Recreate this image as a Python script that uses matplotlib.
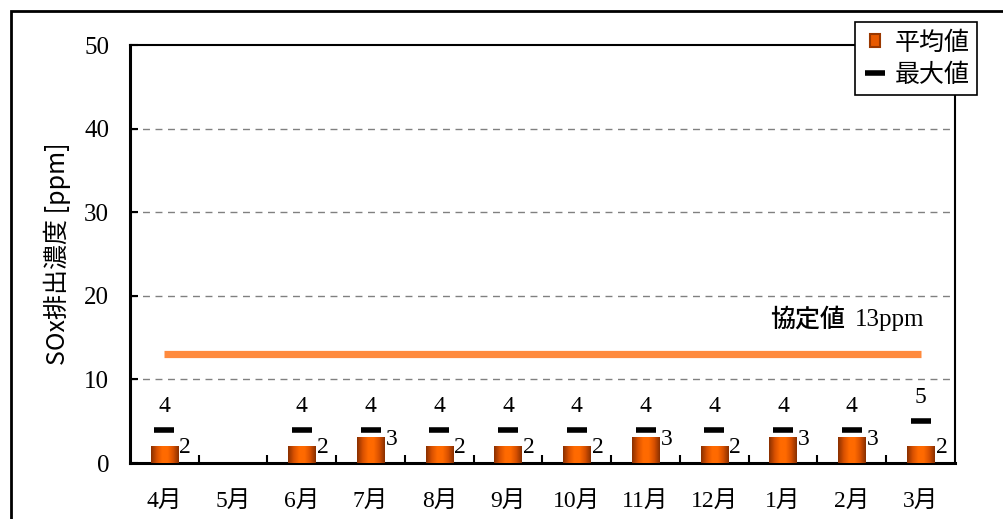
import numpy as np
import matplotlib
matplotlib.use("Agg")
import matplotlib.pyplot as plt
from matplotlib.colors import LinearSegmentedColormap
from matplotlib.patches import Rectangle
from matplotlib.lines import Line2D
from matplotlib.legend_handler import HandlerBase

plt.rcParams['font.family'] = ['Liberation Serif', 'Noto Sans CJK JP']

months  = ["4月", "5月", "6月", "7月", "8月", "9月", "10月", "11月", "12月", "1月", "2月", "3月"]
avg_val = [2, np.nan, 2, 3, 2, 2, 2, 3, 2, 3, 3, 2]
max_val = [4, np.nan, 4, 4, 4, 4, 4, 4, 4, 4, 4, 5]
limit   = 13
limit_label = "13ppm"

BAR_W  = 0.4
GRAD   = LinearSegmentedColormap.from_list(
    "bar", ["#8a3000", "#d85000", "#ff6a00", "#ff6a00", "#d85000", "#8a3000"])

fig = plt.figure(figsize=(10.04, 5.19), dpi=100)
ax = fig.add_axes([130 / 1004, 56 / 519, 825 / 1004, 418 / 519])

x = np.arange(len(months))

# bars, then paint a horizontal gradient over each one
bars = ax.bar(x, avg_val, width=BAR_W, color="#ff6600", zorder=3)
grad = np.linspace(0, 1, 64).reshape(1, -1)
for b in bars:
    h = b.get_height()
    if not np.isfinite(h):
        continue
    ax.imshow(grad, cmap=GRAD, aspect="auto", zorder=4,
              extent=(b.get_x(), b.get_x() + b.get_width(), 0, h))

# max markers
ax.plot(x, max_val, ls="none", marker="_", ms=14.5, mew=4.0, color="black", zorder=5)

# value labels
for xi, a, m in zip(x, avg_val, max_val):
    if np.isfinite(a):
        ax.text(xi + 0.22, a - 0.2, f"{a:g}", ha="left", va="center", fontsize=17, zorder=6)
    if np.isfinite(m):
        ax.text(xi, m + 2.8, f"{m:g}", ha="center", va="center", fontsize=17, zorder=6)

# agreement limit
ax.plot([x[0], x[-1]], [limit, limit], color="#ff8a3d", lw=5.2, zorder=2,
        solid_capstyle="butt")
t1 = ax.text(x[-1] + 0.05, limit + 4.1, limit_label, ha="right", va="center", fontsize=18)
fig.canvas.draw()
bb = t1.get_window_extent()
xl = ax.transData.inverted().transform((bb.x0 - 14, 0))[0]
ax.text(xl, limit + 4.1, "協定値", ha="right", va="center", fontsize=18,
        family=["Noto Sans CJK JP"], fontweight="medium")

ax.set_xlim(-0.5, len(months) - 0.5)
ax.set_ylim(0, 50)
ax.set_yticks(np.arange(0, 51, 10))
ax.set_xticks(x)
ax.set_xticklabels(months)
ax.set_xticks(np.arange(0.5, len(months) - 0.5, 1), minor=True)
ax.tick_params(axis="x", which="major", length=0, pad=20, labelsize=17)
ax.tick_params(axis="x", which="minor", direction="in", length=6, width=1.5)
ax.tick_params(axis="y", direction="in", length=6, width=1.5, pad=15, labelsize=18)

for yv in range(10, 50, 10):
    ax.axhline(yv, color="#808080", lw=1.0, ls=(0, (5, 4)), zorder=1)

for s in ax.spines.values():
    s.set_linewidth(1.5)
ax.spines["left"].set_linewidth(2.2)
ax.spines["bottom"].set_linewidth(2.2)

ax.set_ylabel("SOx排出濃度 [ppm]", fontsize=18,
              family=["Noto Sans CJK JP", "Liberation Serif"])
ax.yaxis.set_label_coords(-0.071, 0.5)


class GradBox(HandlerBase):
    def create_artists(self, legend, orig, xd, yd, w, h, fs, trans):
        s = h * 0.75
        x0 = xd + w / 2 - s * 0.35
        return [Rectangle((x0, yd + (h - s) / 2), s * 0.7, s, facecolor="#e85a00",
                          edgecolor="#9a3800", lw=1.5, transform=trans)]


h_avg = Rectangle((0, 0), 1, 1)
h_max = Line2D([], [], ls="none", marker="_", ms=14.5, mew=4.0, color="black")
leg = fig.legend([h_avg, h_max], ["平均値", "最大値"], handler_map={h_avg: GradBox()},
                 loc="upper left", bbox_to_anchor=(855 / 1004, 1 - 22 / 519),
                 prop={"family": "Noto Sans CJK JP", "size": 18},
                 frameon=True, fancybox=False, edgecolor="black", framealpha=1,
                 handlelength=1.0, handletextpad=0.3, borderpad=0.3,
                 labelspacing=0.25, borderaxespad=0)
leg.get_frame().set_linewidth(1.2)

# outer chart frame
fig.add_artist(Rectangle((11 / 1004, -0.1), 1.2, 1 - 11 / 519 + 0.1, transform=fig.transFigure,
                         fill=False, edgecolor="black", lw=2.0))

fig.savefig("out.png", dpi=100)
